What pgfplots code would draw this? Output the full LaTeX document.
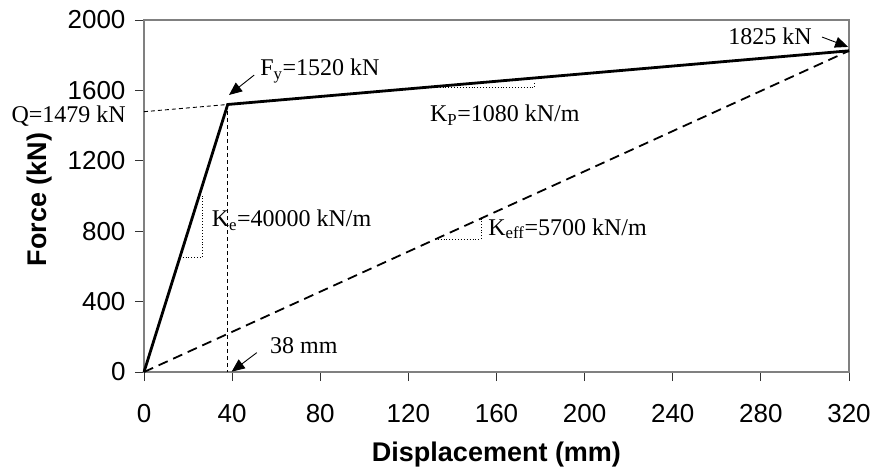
\documentclass[border=0pt]{standalone}
\usepackage{pgfplots}
\pgfplotsset{compat=1.18}
\usepackage{fontspec}
\setmainfont{Liberation Serif}
\setsansfont{Liberation Sans}
\usetikzlibrary{arrows.meta}

\begin{document}
\begin{tikzpicture}
\useasboundingbox (-144pt,-100pt) rectangle (731pt,372pt);
\begin{axis}[
  at={(0,0)}, anchor=south west,
  width=705pt, height=352pt, scale only axis,
  xmin=0, xmax=320, ymin=0, ymax=2000,
  xtick={0,40,...,320}, ytick={0,400,...,2000},
  axis line style={draw=gray, line width=1.2pt},
  tick align=outside, major tick length=9pt,
  tick style={black!80, line width=0.9pt},
  xtick pos=left, ytick pos=left,
  /pgf/number format/assume math mode=true,
  /pgf/number format/1000 sep={},
  ticklabel style={font=\sffamily\fontsize{26}{30}\selectfont},
  xticklabel style={yshift=-20pt},
  yticklabel style={xshift=-6pt},
  xlabel={Displacement (mm)}, ylabel={Force (kN)},
  xlabel style={font=\sffamily\bfseries\fontsize{27}{31}\selectfont, at={(axis description cs:0.5,-0.2358)}, anchor=center},
  ylabel style={font=\sffamily\bfseries\fontsize{27}{31}\selectfont, at={(axis description cs:-0.148,0.49)}, anchor=center},
  clip=false,
]
% effective stiffness line
\addplot[black, line width=1.8pt, dash pattern=on 10pt off 6pt] coordinates {(0,0) (320,1825)};
% Q extension and vertical at yield
\addplot[black, line width=0.9pt, dash pattern=on 4pt off 3pt] coordinates {(0,1479) (38,1520)};
\addplot[black, line width=0.9pt, dash pattern=on 4pt off 3pt] coordinates {(38,1520) (38,0)};
% bilinear curve
\addplot[black, line width=2.8pt] coordinates {(0,0) (38,1520) (320,1825)};
% slope triangles
\addplot[black, line width=0.9pt, dotted] coordinates {(16.25,650) (26.5,650) (26.5,1000)};
\addplot[black, line width=0.9pt, dotted] coordinates {(125,1614) (177,1614) (177,1650)};
\addplot[black, line width=0.9pt, dotted] coordinates {(132,754) (153,754) (153,872)};

% annotations
\begin{scope}[every node/.style={inner sep=0pt, font=\rmfamily\fontsize{24}{28}\selectfont}]
\node[anchor=base east] at (axis cs:-8.2,1418) {Q=1479 kN};
\node[anchor=base west] at (axis cs:52.7,1682) {F\textsubscript{y}=1520 kN};
\node[anchor=base west] at (axis cs:30.7,826) {K\textsubscript{e}=40000 kN/m};
\node[anchor=base west] at (axis cs:129.8,1422) {K\textsubscript{P}=1080 kN/m};
\node[anchor=base west] at (axis cs:156.2,778) {K\textsubscript{eff}=5700 kN/m};
\node[anchor=base east] at (axis cs:303.2,1858) {1825 kN};
\node[anchor=base west] at (axis cs:57.2,106) {38 mm};
\end{scope}
\draw[black, line width=0.9pt, -{Triangle[length=13pt, width=11pt]}] (axis cs:50,1687) -- (axis cs:38.6,1574);
\draw[black, line width=0.9pt, -{Triangle[length=13pt, width=11pt]}] (axis cs:307.8,1903) -- (axis cs:319.6,1847);
\draw[black, line width=0.9pt, -{Triangle[length=13pt, width=11pt]}] (axis cs:51.2,110) -- (axis cs:39.8,2);
\end{axis}
\end{tikzpicture}
\end{document}
